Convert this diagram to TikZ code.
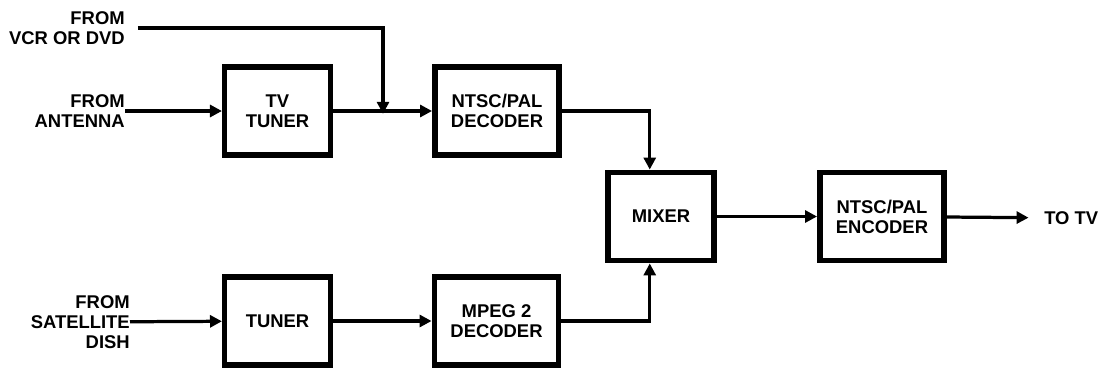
\documentclass[tikz,border=0pt]{standalone}
\usepackage{fontspec}
\setmainfont{Liberation Sans}
\usetikzlibrary{arrows.meta,positioning}

\begin{document}
\begin{tikzpicture}[x=0.025cm,y=-0.025cm,
    font=\fontsize{13.1}{14.3}\selectfont\bfseries,
    block/.style={draw,line width=3.9pt,minimum width=2.64cm,minimum height=2.21cm,align=center,inner sep=0pt},
    wideblock/.style={block,minimum width=3.11cm},
    srclabel/.style={align=right,anchor=east,inner sep=0pt},
    sig/.style={line width=2.3pt,-{Triangle[length=8.5pt,width=8.5pt]}}]
  \useasboundingbox (0,0) rectangle (1102,368);

  % Upper path: broadcast
  \node[block] (tvtuner) at (277.5,111) {TV\\TUNER};
  \node[wideblock] (ntscdec) at (497,111) {NTSC/PAL\\DECODER};

  % Lower path: satellite
  \node[block] (tuner) at (277.5,321) {TUNER};
  \node[wideblock] (mpegdec) at (496.5,321) {MPEG 2\\DECODER};

  % Output
  \node[block] (mixer) at (661,216.5) {MIXER};
  \node[wideblock] (ntscenc) at (882,216.5) {NTSC/PAL\\ENCODER};

  % Sources and sink
  \node[srclabel] (vcr) at (125,28) {FROM\\VCR OR DVD};
  \node[srclabel] (antenna) at (125,111) {FROM\\ANTENNA};
  \node[srclabel] (satellite) at (130,322) {FROM\\SATELLITE\\DISH};
  \node[anchor=west,inner sep=0pt] (totv) at (1044,218) {TO TV};
  \coordinate (join) at (383,111);

  \draw[sig] (antenna) -- (tvtuner);
  \draw[sig] (tvtuner) -- (ntscdec);
  \draw[sig,shorten <=4\pgflinewidth] (vcr.east) -| ([yshift=-2pt]join);
  \draw[sig] (ntscdec.east) -| ([xshift=-8]mixer.north);
  \draw[sig] (satellite) -- (tuner);
  \draw[sig] (tuner) -- (mpegdec);
  \draw[sig] (mpegdec.east) -| ([xshift=-8]mixer.south);
  \draw[sig] (mixer) -- (ntscenc);
  \draw[sig,shorten >=11] (ntscenc) -- (totv);
\end{tikzpicture}
\end{document}
